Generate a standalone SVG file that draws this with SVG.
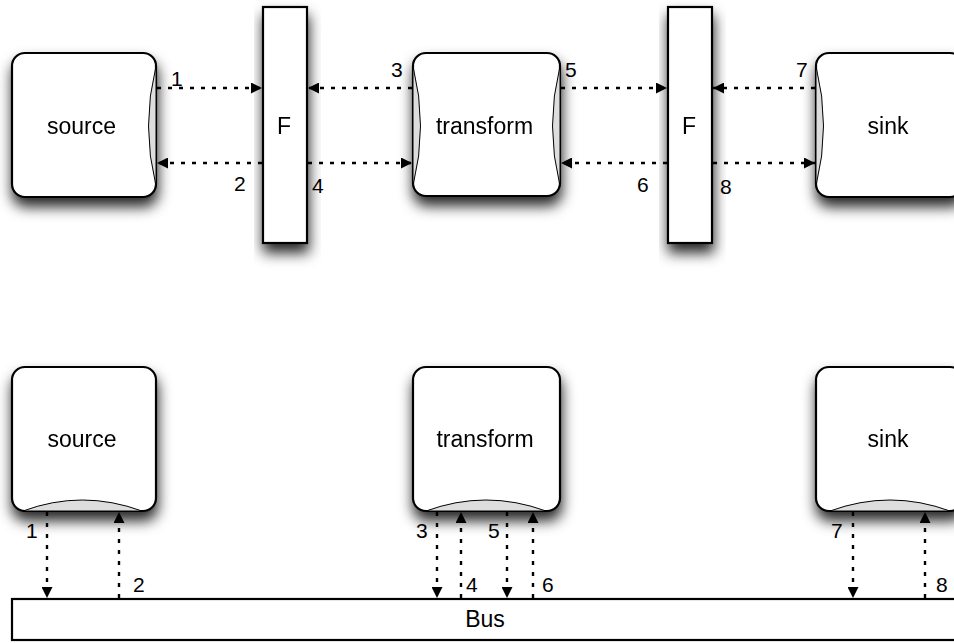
<svg xmlns="http://www.w3.org/2000/svg" width="954" height="643" viewBox="0 0 954 643">
  <defs>
    <filter id="shadow" x="-20%" y="-20%" width="150%" height="170%">
      <feDropShadow dx="1" dy="9" stdDeviation="7" flood-color="#000" flood-opacity="0.85"/>
    </filter>
    <marker id="head" viewBox="0 0 10 10" refX="10" refY="5" markerWidth="13" markerHeight="11" markerUnits="userSpaceOnUse" orient="auto">
      <path d="M0,0 L10,5 L0,10 Z" fill="#000"/>
    </marker>
    <style>
      .box { fill: #fff; stroke: #000; stroke-width: 2.2; }
      .lens { fill: #ddd; stroke: #000; stroke-width: 1; }
      .link { fill: none; stroke: #000; stroke-width: 2.4; stroke-dasharray: 4 7; marker-end: url(#head); }
      text { font-family: "Liberation Sans", Arial, sans-serif; font-size: 23px; fill: #000; }
      .mid { text-anchor: middle; }
      .num { font-size: 21px; }
    </style>
  </defs>

  <!-- Upper row: filter pipeline -->
  <g id="top-source" filter="url(#shadow)">
    <rect class="box" x="12" y="53" width="144" height="144" rx="13"/>
    <path class="lens" d="M156,66 Q141,126 156,186 Z"/>
    <text class="mid" x="81.5" y="134">source</text>
  </g>
  <g id="top-filter-1" filter="url(#shadow)">
    <rect class="box" x="263" y="7" width="44" height="236"/>
    <text class="mid" x="284" y="134">F</text>
  </g>
  <g id="top-transform" filter="url(#shadow)">
    <rect class="box" x="413" y="53" width="147" height="143" rx="13"/>
    <path class="lens" d="M413,66 Q428,126 413,186 Z"/>
    <path class="lens" d="M560,66 Q545,126 560,186 Z"/>
    <text class="mid" x="484.5" y="134">transform</text>
  </g>
  <g id="top-filter-2" filter="url(#shadow)">
    <rect class="box" x="668" y="7" width="44" height="236"/>
    <text class="mid" x="689" y="134">F</text>
  </g>
  <g id="top-sink" filter="url(#shadow)">
    <rect class="box" x="816" y="53" width="147" height="144" rx="13"/>
    <path class="lens" d="M816,66 Q831,126 816,186 Z"/>
    <text class="mid" x="888" y="134">sink</text>
  </g>

  <!-- Lower row: shared bus -->
  <g id="bottom-source" filter="url(#shadow)">
    <rect class="box" x="12" y="367" width="144" height="144" rx="13"/>
    <path class="lens" d="M23,511 Q82,489 142,511 Z"/>
    <text class="mid" x="82" y="447">source</text>
  </g>
  <g id="bottom-transform" filter="url(#shadow)">
    <rect class="box" x="413" y="367" width="147" height="144" rx="13"/>
    <path class="lens" d="M426,511 Q486,489 546,511 Z"/>
    <text class="mid" x="485" y="447">transform</text>
  </g>
  <g id="bottom-sink" filter="url(#shadow)">
    <rect class="box" x="816" y="367" width="147" height="144" rx="13"/>
    <path class="lens" d="M830,511 Q890,489 950,511 Z"/>
    <text class="mid" x="888" y="447">sink</text>
  </g>
  <g id="bus">
    <rect class="box" x="12" y="599" width="960" height="41"/>
    <text class="mid" x="485" y="627">Bus</text>
  </g>

  <!-- Connectors -->
  <g id="connectors">
    <path class="link" d="M157,88 L262,88"/>
    <path class="link" d="M262,163 L157,163"/>
    <path class="link" d="M412,88 L308,88"/>
    <path class="link" d="M308,163 L412,163"/>
    <path class="link" d="M561,88 L667,88"/>
    <path class="link" d="M667,163 L561,163"/>
    <path class="link" d="M815,88 L713,88"/>
    <path class="link" d="M713,163 L815,163"/>

    <path class="link" d="M47,512 L47,598"/>
    <path class="link" d="M119,598 L119,512"/>
    <path class="link" d="M437,512 L437,598"/>
    <path class="link" d="M461,598 L461,512"/>
    <path class="link" d="M507,512 L507,598"/>
    <path class="link" d="M533,598 L533,512"/>
    <path class="link" d="M853,512 L853,598"/>
    <path class="link" d="M925,598 L925,512"/>

    <text class="num" x="171" y="86">1</text>
    <text class="num" x="234" y="191">2</text>
    <text class="num" x="391" y="77">3</text>
    <text class="num" x="312" y="193">4</text>
    <text class="num" x="565" y="77">5</text>
    <text class="num" x="637" y="192">6</text>
    <text class="num" x="796" y="77">7</text>
    <text class="num" x="720" y="194">8</text>

    <text class="num" x="26" y="538">1</text>
    <text class="num" x="133" y="592">2</text>
    <text class="num" x="416" y="538">3</text>
    <text class="num" x="466" y="592">4</text>
    <text class="num" x="488" y="538">5</text>
    <text class="num" x="542" y="592">6</text>
    <text class="num" x="831" y="538">7</text>
    <text class="num" x="936" y="592">8</text>
  </g>
</svg>
